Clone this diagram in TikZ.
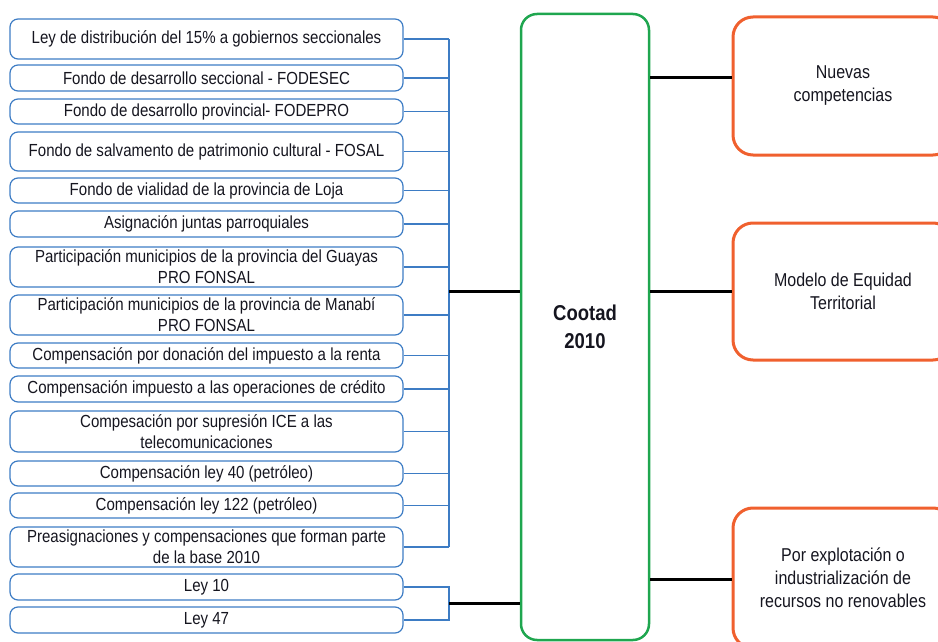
\documentclass[tikz,border=0pt]{standalone}
\usepackage{fontspec}
\setmainfont{Liberation Sans}[FakeStretch=0.86]
\definecolor{bblue}{HTML}{3D7CC4}
\definecolor{cgreen}{HTML}{1FA64F}
\definecolor{corange}{HTML}{F0602E}
\definecolor{ink}{HTML}{15151F}
\begin{document}
\begin{tikzpicture}[x=1pt,y=-1pt,
  leftbox/.style={draw=bblue,line width=1.2pt,rounded corners=8pt,minimum width=393pt,inner sep=0pt,align=center,text=ink,font=\fontsize{17.5}{21}\selectfont},
  obox/.style={draw=corange,line width=3pt,rounded corners=20pt,minimum width=220pt,inner sep=0pt,align=center,text=ink,font=\fontsize{18.6}{23}\selectfont},
  bline/.style={draw=bblue,line width=1.2pt},
  kline/.style={draw=black,line width=3pt}]
\clip (0,0) rectangle (938,642);
\node[leftbox,minimum height=40pt] (l1) at (206.5,39) {Ley de distribución del 15\% a gobiernos seccionales};
\node[leftbox,minimum height=26pt] (l2) at (206.5,78) {Fondo de desarrollo seccional - FODESEC};
\node[leftbox,minimum height=25pt] (l3) at (206.5,111.5) {Fondo de desarrollo provincial- FODEPRO};
\node[leftbox,minimum height=39pt] (l4) at (206.5,151.5) {Fondo de salvamento de patrimonio cultural - FOSAL};
\node[leftbox,minimum height=25pt] (l5) at (206.5,190.5) {Fondo de vialidad de la provincia de Loja};
\node[leftbox,minimum height=26pt] (l6) at (206.5,224) {Asignación juntas parroquiales};
\node[leftbox,minimum height=40pt] (l7) at (206.5,267) {Participación municipios de la provincia del Guayas\\PRO FONSAL};
\node[leftbox,minimum height=40pt] (l8) at (206.5,315) {Participación municipios de la provincia de Manabí\\PRO FONSAL};
\node[leftbox,minimum height=25pt] (l9) at (206.5,355.5) {Compensación por donación del impuesto a la renta};
\node[leftbox,minimum height=26pt] (l10) at (206.5,389) {Compensación impuesto a las operaciones de crédito};
\node[leftbox,minimum height=41pt] (l11) at (206.5,431.5) {Compesación por supresión ICE a las\\telecomunicaciones};
\node[leftbox,minimum height=25pt] (l12) at (206.5,473.5) {Compensación ley 40 (petróleo)};
\node[leftbox,minimum height=25pt] (l13) at (206.5,505.5) {Compensación ley 122 (petróleo)};
\node[leftbox,minimum height=40pt] (l14) at (206.5,547) {Preasignaciones y compensaciones que forman parte\\de la base 2010};
\node[leftbox,minimum height=26pt] (l15) at (206.5,587) {Ley 10};
\node[leftbox,minimum height=26pt] (l16) at (206.5,620) {Ley 47};
% central box
\node[draw=cgreen,line width=2.5pt,rounded corners=16pt,minimum width=128pt,minimum height=626pt,inner sep=0pt,align=center,text=ink,font=\fontsize{21.5}{28}\selectfont\bfseries] (cootad) at (585,327) {Cootad\\2010};
% right boxes
\node[obox,minimum height=138pt] (nuevas) at (843,86) {Nuevas\\competencias};
\node[obox,minimum height=137pt] (modelo) at (843,291.5) {Modelo de Equidad\\Territorial};
\node[obox,minimum height=140pt] (recursos) at (843,578) {Por explotación o\\industrialización de\\recursos no renovables};
% bracket 1
\coordinate (bt) at (449,39);
\coordinate (bb) at (449,547);
\coordinate (bm) at (449,291);
\foreach \i in {1,...,14} {\draw[bline] (l\i.east) -- (l\i.east -| bt);}
\draw[bline] (bt) -- (bb);
\draw[kline] (bm) -- (bm -| cootad.west);
% bracket 2
\coordinate (ct) at (449,587);
\coordinate (cb) at (449,620);
\coordinate (cm) at (449,603);
\draw[bline] (l15.east) -- (ct) -- (cb) -- (l16.east);
\draw[kline] (cm) -- (cm -| cootad.west);
% right connectors
\coordinate (r1) at (649,78);
\coordinate (r3) at (649,579);
\draw[kline] (r1 -| cootad.east) -- (r1 -| nuevas.west);
\draw[kline] (cootad.east |- modelo.west) -- (modelo.west);
\draw[kline] (r3 -| cootad.east) -- (r3 -| recursos.west);
\end{tikzpicture}
\end{document}
